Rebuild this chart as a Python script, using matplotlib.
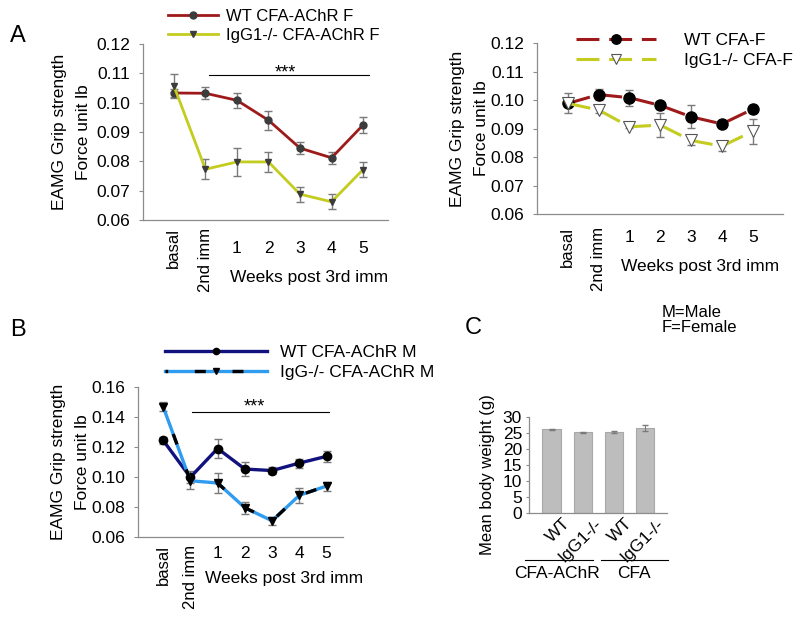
import numpy as np
import matplotlib.pyplot as plt
from matplotlib import transforms

plt.rcParams['font.family'] = ['Liberation Sans', 'DejaVu Sans']
plt.rcParams['font.size'] = 12

W, H = 800, 619

# x categories shared by the grip strength panels
x_labels = ['basal', '2nd imm', '1', '2', '3', '4', '5']
x_pos = np.arange(len(x_labels))

# Panel A left: females immunised with CFA-AChR
wt_af = [0.1033, 0.1032, 0.1008, 0.0940, 0.0845, 0.0812, 0.0924]
wt_af_err = [0.0015, 0.0020, 0.0025, 0.0032, 0.0020, 0.0020, 0.0027]
ko_af = [0.1057, 0.0773, 0.0798, 0.0798, 0.0688, 0.0662, 0.0772]
ko_af_err = [0.0040, 0.0034, 0.0048, 0.0034, 0.0025, 0.0025, 0.0025]

# Panel A right: females with CFA only
wt_cf = [0.0988, 0.1019, 0.1008, 0.0981, 0.0941, 0.0916, 0.0968]
wt_cf_err = [0.0035, 0.0020, 0.0028, 0.0010, 0.0040, 0.0010, 0.0015]
ko_cf = [0.0988, 0.0965, 0.0906, 0.0912, 0.0858, 0.0838, 0.0890]
ko_cf_err = [0.0010, 0.0010, 0.0005, 0.0043, 0.0017, 0.0017, 0.0043]

# Panel B: males immunised with CFA-AChR
wt_bm = [0.1245, 0.0998, 0.1190, 0.1053, 0.1043, 0.1093, 0.1138]
wt_bm_err = [0.0022, 0.0040, 0.0062, 0.0048, 0.0025, 0.0030, 0.0035]
ko_bm = [0.1470, 0.0975, 0.0960, 0.0795, 0.0708, 0.0878, 0.0940]
ko_bm_err = [0.0030, 0.0055, 0.0065, 0.0040, 0.0025, 0.0052, 0.0030]

# significance bars: (x start, x end, y)
sig_a = (1.1, 6.2, 0.1093)
sig_b = (1.05, 6.1, 0.1432)

# Panel C: body weight
c_labels = ['WT', 'IgG1-/-', 'WT', 'IgG1-/-']
c_vals = [26.1, 25.2, 25.3, 26.5]
c_err = [0.3, 0.2, 0.4, 1.0]
c_groups = ['CFA-AChR', 'CFA']

RED = '#9e1a1a'
YEL = '#c3cc1f'
NAVY = '#12127e'
BLUE = '#2f9cf0'
GRAY_ERR = '#7a7a7a'
SPINE = '#8c8c8c'


def px_axes(left, top, right, bottom):
    return fig.add_axes([left / W, 1 - bottom / H, (right - left) / W, (bottom - top) / H])


def style_axes(ax):
    for s in ['top', 'right']:
        ax.spines[s].set_visible(False)
    for s in ['left', 'bottom']:
        ax.spines[s].set_color(SPINE)
        ax.spines[s].set_linewidth(0.9)
    ax.tick_params(axis='y', colors=SPINE, labelcolor='black', length=3, width=0.8, pad=6,
                   labelsize=12.5)
    ax.tick_params(axis='x', length=0, labelbottom=False)


def x_category_labels(ax, rot_pad, num_pad, xl_x, xl_pad):
    # tick labels: first two rotated, week numbers horizontal, offsets in pixels
    base = transforms.blended_transform_factory(ax.transData, ax.transAxes)
    for i, lab in enumerate(x_labels):
        if i < 2:
            tr = base + transforms.ScaledTranslation(0, -rot_pad / 100, fig.dpi_scale_trans)
            ax.text(x_pos[i], 0, lab, rotation=90, ha='center', va='top', transform=tr)
        else:
            tr = base + transforms.ScaledTranslation(0, -num_pad / 100, fig.dpi_scale_trans)
            ax.text(x_pos[i], 0, lab, ha='center', va='center', transform=tr, fontsize=12.5)
    tr = ax.transAxes + transforms.ScaledTranslation(0, -xl_pad / 100, fig.dpi_scale_trans)
    ax.text(xl_x, 0, 'Weeks post 3rd imm', ha='center', va='center', transform=tr, fontsize=12.5)


def grip_ylabel(ax, pad):
    ax.set_ylabel('EAMG Grip strength\nForce unit lb', linespacing=1.75, labelpad=pad, fontsize=12.5)


fig = plt.figure(figsize=(8, 6.19), dpi=100)

# ---------------- Panel A left ----------------
ax1 = px_axes(143, 44, 388, 220)
style_axes(ax1)
ax1.errorbar(x_pos, wt_af, yerr=wt_af_err, fmt='none', ecolor=GRAY_ERR, elinewidth=1, capsize=3, zorder=3)
ax1.errorbar(x_pos, ko_af, yerr=ko_af_err, fmt='none', ecolor=GRAY_ERR, elinewidth=1, capsize=3, zorder=3)
l1, = ax1.plot(x_pos, wt_af, color=RED, lw=2, marker='o', ms=5, mfc='#3c3c3c', mec='#3c3c3c', zorder=4)
l2, = ax1.plot(x_pos, ko_af, color=YEL, lw=2, marker='v', ms=5, mfc='#3c3c3c', mec='#3c3c3c', zorder=4)
ax1.set_xlim(-0.98, 6.79)
ax1.set_ylim(0.06, 0.12)
ax1.set_yticks(np.arange(0.06, 0.1201, 0.01))
ax1.set_yticklabels(['%.2f' % v for v in np.arange(0.06, 0.1201, 0.01)])
ax1.set_xticks(x_pos)
ax1.plot(sig_a[:2], [sig_a[2]] * 2, color='black', lw=0.8)
ax1.text(np.mean(sig_a[:2]) - 0.1, 0.1101, '***', ha='center', va='center', fontsize=13)
x_category_labels(ax1, 8, 28, 0.678, 57)
grip_ylabel(ax1, 4)
fig.legend([l1, l2], ['WT CFA-AChR F', 'IgG1-/- CFA-AChR F'], loc='center left',
           bbox_to_anchor=(168 / W, 1 - 26 / H), frameon=False, borderpad=0, borderaxespad=0,
           handlelength=3.0, handletextpad=0.45, labelspacing=0.25, fontsize=12)

# ---------------- Panel A right ----------------
ax2 = px_axes(537, 43, 783, 214)
style_axes(ax2)
ax2.errorbar(x_pos, wt_cf, yerr=wt_cf_err, fmt='none', ecolor=GRAY_ERR, elinewidth=1, capsize=3, zorder=3)
ax2.errorbar(x_pos, ko_cf, yerr=ko_cf_err, fmt='none', ecolor=GRAY_ERR, elinewidth=1, capsize=3, zorder=3)
l3, = ax2.plot(x_pos, wt_cf, color=RED, lw=2.2, ls=(0, (7.5, 3.2)), marker='o', ms=8,
               mfc='black', mec='black', zorder=4)
l4, = ax2.plot(x_pos, ko_cf, color=YEL, lw=2.2, ls=(0, (7.5, 3.2)), marker='v', ms=8,
               mfc='white', mec='#555555', mew=0.8, zorder=4)
ax2.set_xlim(-1.0, 6.98)
ax2.set_ylim(0.06, 0.12)
ax2.set_yticks(np.arange(0.06, 0.1201, 0.01))
ax2.set_yticklabels(['%.2f' % v for v in np.arange(0.06, 0.1201, 0.01)])
ax2.set_xticks(x_pos)
x_category_labels(ax2, 13, 24, 0.663, 52)
grip_ylabel(ax2, 1)
fig.legend([l3, l4], ['WT CFA-F', 'IgG1-/- CFA-F'], loc='center left',
           bbox_to_anchor=(576 / W, 1 - 50.5 / H), frameon=False, borderpad=0, borderaxespad=0,
           handlelength=4.6, handletextpad=1.6, labelspacing=0.3, fontsize=12.5, markerscale=0.85)

# ---------------- Panel B ----------------
ax3 = px_axes(138, 387, 343, 537)
style_axes(ax3)
ax3.errorbar(x_pos, wt_bm, yerr=wt_bm_err, fmt='none', ecolor=GRAY_ERR, elinewidth=1, capsize=3, zorder=3)
ax3.errorbar(x_pos, ko_bm, yerr=ko_bm_err, fmt='none', ecolor=GRAY_ERR, elinewidth=1, capsize=3, zorder=3)
l5, = ax3.plot(x_pos, wt_bm, color=NAVY, lw=2.4, marker='o', ms=6, mfc='black', mec='black', zorder=4)
l6a, = ax3.plot(x_pos, ko_bm, color=BLUE, lw=2.4, zorder=4)
l6b, = ax3.plot(x_pos, ko_bm, color='black', lw=2.4, ls=(2.5, (3.3, 8.0)), marker='v', ms=6,
                mfc='black', mec='black', zorder=5)
ax3.set_xlim(-0.92, 6.6)
ax3.set_ylim(0.06, 0.16)
ax3.set_yticks(np.arange(0.06, 0.1601, 0.02))
ax3.set_yticklabels(['%.2f' % v for v in np.arange(0.06, 0.1601, 0.02)])
ax3.set_xticks(x_pos)
ax3.plot(sig_b[:2], [sig_b[2]] * 2, color='black', lw=0.8)
ax3.text(np.mean(sig_b[:2]) - 0.24, 0.1467, '***', ha='center', va='center', fontsize=13)
x_category_labels(ax3, 8, 16, 0.712, 41)
grip_ylabel(ax3, 1)
fig.legend([l5, (l6a, l6b)], ['WT CFA-AChR M', 'IgG-/- CFA-AChR M'], loc='center left',
           bbox_to_anchor=(165 / W, 1 - 362.5 / H), frameon=False, borderpad=0, borderaxespad=0,
           handlelength=5.9, handletextpad=0.75, labelspacing=0.3, fontsize=12.5, markerscale=0.75)

# ---------------- Panel C ----------------
ax4 = px_axes(529, 417, 667, 513)
style_axes(ax4)
c_pos = np.arange(len(c_vals))
ax4.bar(c_pos, c_vals, width=0.61, color='#bdbdbd', edgecolor='#a8a8a8', linewidth=0.8,
        yerr=c_err, ecolor=GRAY_ERR, error_kw=dict(elinewidth=0.8, capsize=2.5))
ax4.set_xlim(-0.74, 3.71)
ax4.set_ylim(0, 30)
ax4.set_yticks(np.arange(0, 31, 5))
ax4.tick_params(axis='y', length=2, pad=3, labelsize=12.5)
ax4.set_ylabel('Mean body weight (g)', fontsize=12)
ax4.yaxis.set_label_coords(-0.245, 0.40)
ax4.set_xticks(c_pos)
ax4.tick_params(axis='x', labelbottom=True, pad=2, labelsize=12.5)
ax4.set_xticklabels(c_labels, rotation=45, ha='right', va='top', rotation_mode='anchor')
for lab in ax4.get_xticklabels():
    lab.set_transform(lab.get_transform() + transforms.ScaledTranslation(0.11, 0.0, fig.dpi_scale_trans))
ctr = transforms.blended_transform_factory(ax4.transData, ax4.transAxes)
ax4.plot([-0.87, 1.32], [-0.49, -0.49], color='black', lw=0.8, transform=ctr, clip_on=False)
ax4.plot([1.58, 3.74], [-0.49, -0.49], color='black', lw=0.8, transform=ctr, clip_on=False)
ax4.text(0.17, -0.625, c_groups[0], ha='center', va='center', transform=ctr, fontsize=12.5)
ax4.text(2.65, -0.625, c_groups[1], ha='center', va='center', transform=ctr, fontsize=12.5)

fig.text(662 / W, 1 - 312.5 / H, 'M=Male', ha='left', va='center', fontsize=12)
fig.text(662 / W, 1 - 328 / H, 'F=Female', ha='left', va='center', fontsize=12)

# panel letters
fig.text(10 / W, 1 - 35.5 / H, 'A', ha='left', va='center', fontsize=17)
fig.text(10 / W, 1 - 330 / H, 'B', ha='left', va='center', fontsize=17)
fig.text(465 / W, 1 - 327.5 / H, 'C', ha='left', va='center', fontsize=17)

fig.savefig('out.png', dpi=100)
